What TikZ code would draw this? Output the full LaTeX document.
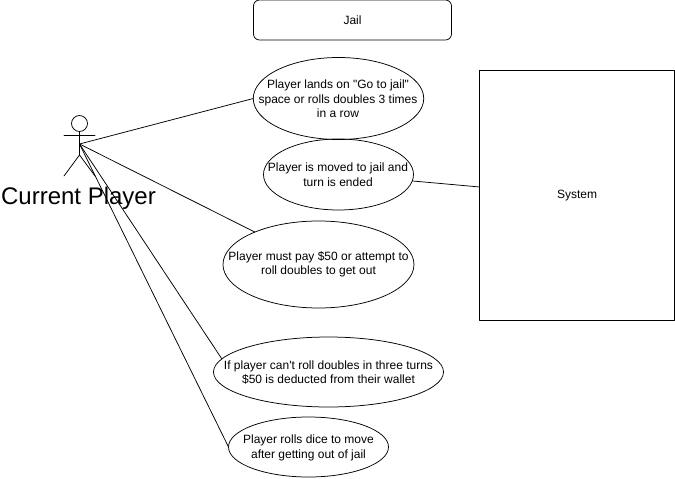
\documentclass[tikz,border=0pt]{standalone}
\usepackage{fontspec}
\setmainfont[Ligatures=TeXOff]{Liberation Sans}
\usetikzlibrary{shapes.geometric}
\tikzset{
  txt/.style={font=\fontsize{12}{14.5}\selectfont,align=center},
  uc/.style={draw,ellipse,inner sep=0pt,outer sep=0pt,line width=0.75pt,txt},
  ln/.style={line width=0.75pt},
  boxn/.style={draw,line width=0.75pt,txt,inner sep=0pt,outer sep=0pt}
}
\begin{document}
\begin{tikzpicture}[x=1pt,y=-1pt,line cap=round,line join=round]
\useasboundingbox (0,0) rectangle (675,479);
\coordinate (hand) at (79.5,144);
\node[boxn,rounded corners=6pt,minimum width=198pt,minimum height=40pt] (jail) at (352.5,20) {Jail};
\node[boxn,minimum width=195pt,minimum height=250pt] (sys) at (577,195.5) {System};
\node[uc,minimum width=170.5pt,minimum height=82pt] (a) at (338.5,98.5) {};
\node[uc,minimum width=150pt,minimum height=71pt] (b) at (338.5,174.5) {};
\node[uc,minimum width=191pt,minimum height=87pt] (c) at (318.5,264.5) {};
\node[uc,minimum width=230pt,minimum height=70pt] (d) at (328.5,372) {};
\node[uc,minimum width=160pt,minimum height=60pt] (e) at (308.5,447) {};
\node[txt] at (338,99) {Player lands on "Go to jail"\\space or rolls doubles 3 times\\in a row};
\node[txt] at (338,174.5) {Player is moved to jail and\\turn is ended};
\node[txt] at (318.5,264.5) {Player must pay \$50 or attempt to\\roll doubles to get out};
\node[txt] at (328.5,372.5) {If player can't roll doubles in three turns\\\$50 is deducted from their wallet};
\node[txt] at (308.5,448) {Player rolls dice to move\\after getting out of jail};
\draw[ln] (hand) -- (a.west);
\draw[ln] (hand) -- (c.153);
\draw[ln] (hand) -- (d.173);
\draw[ln] (hand) -- (e.west);
\draw[ln] (b.355) -- (sys.175);
% actor
\draw[ln] (79.5,123.5) circle (8);
\draw[ln] (79.5,131.5) -- (79.5,155);
\draw[ln] (64,135) -- (95,135);
\draw[ln] (64,176) -- (79.5,155) -- (95,176);
\node[font=\fontsize{24}{28}\selectfont,anchor=center] (lab) at (78.5,198) {Current Player};
\end{tikzpicture}
\end{document}
